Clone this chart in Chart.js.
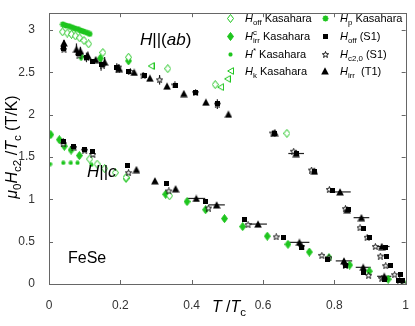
<!DOCTYPE html>
<html lang="en">
<head>
<meta charset="UTF-8">
<title>FeSe upper critical field</title>
<script src="https://cdn.jsdelivr.net/npm/chart.js"></script>
<style>
  html, body { margin: 0; padding: 0; background: #fff; }
</style>
</head>
<body>
<canvas id="c" width="415" height="326"></canvas>
<script>
// points are [T/Tc, mu0Hc2/Tc] ; black sets carry [.., xErr, yErr]
const xTickValues = [0, 0.2, 0.4, 0.6, 0.8, 1];
const yTickValues = [0, 0.5, 1, 1.5, 2, 2.5, 3];

const hOffKas = [
  [0.038, 2.98], [0.051, 2.966], [0.063, 2.951], [0.074, 2.932], [0.086, 2.909], [0.098, 2.878], [0.111, 2.838],
  [0.151, 2.735], [0.223, 2.68], [0.333, 2.545], [0.466, 2.356], [0.667, 1.78],
  [0.114, 1.477], [0.135, 1.417], [0.156, 1.364], [0.186, 1.315], [0.216, 1.258], [0.338, 1.042]
];
const hIrrCKas = [
  [0.09, 2.685], [0.144, 2.667], [0.223, 2.636],
  [0.005, 1.765], [0.029, 1.705], [0.043, 1.628], [0.062, 1.583], [0.085, 1.517], [0.216, 1.25],
  [0.327, 1.06], [0.387, 0.974], [0.439, 0.878], [0.492, 0.773], [0.543, 0.678], [0.612, 0.565],
  [0.67, 0.469], [0.73, 0.378], [0.785, 0.31], [0.843, 0.224], [0.898, 0.151], [0.951, 0.057], [0.997, 0.0]
];
const hStarKas = [[0.003, 1.417], [0.04, 1.432], [0.061, 1.432], [0.08, 1.432], [0.119, 1.409]];
const hPKas = [
  [0.039, 3.068], [0.047, 3.055], [0.056, 3.047], [0.064, 3.034], [0.072, 3.021],
  [0.081, 3.012], [0.089, 2.996], [0.097, 2.984], [0.106, 2.97], [0.114, 2.955]
];
const hKKas = [[0.286, 2.576], [0.481, 2.326], [0.5, 2.424]];

const hOffS1 = [
  [0.04, 2.78, 0, 0], [0.084, 2.724, 0, 0], [0.105, 2.678, 0, 0.057], [0.123, 2.628, 0, 0], [0.146, 2.591, 0, 0.07],
  [0.19, 2.553, 0, 0.057], [0.223, 2.515, 0, 0], [0.269, 2.469, 0, 0], [0.356, 2.349, 0, 0], [0.412, 2.261, 0, 0],
  [0.472, 2.136, 0, 0], [0.633, 1.773, 0, 0], [0.693, 1.542, 0, 0], [0.744, 1.333, 0, 0], [0.794, 1.102, 0, 0],
  [0.839, 0.878, 0, 0], [0.881, 0.659, 0, 0], [0.9, 0.545, 0, 0], [0.944, 0.435, 0, 0], [0.947, 0.33, 0, 0],
  [0.958, 0.216, 0, 0], [0.985, 0.11, 0, 0], [0.99, 0.045, 0, 0],
  [0.04, 1.682, 0, 0.04], [0.07, 1.628, 0, 0], [0.1, 1.591, 0, 0], [0.123, 1.568, 0, 0], [0.219, 1.401, 0, 0],
  [0.33, 1.19, 0, 0], [0.44, 0.974, 0, 0], [0.549, 0.758, 0, 0], [0.658, 0.545, 0, 0], [0.709, 0.435, 0, 0],
  [0.781, 0.292, 0, 0], [0.83, 0.216, 0, 0], [0.881, 0.14, 0, 0], [0.942, 0.057, 0, 0], [0.98, 0.045, 0, 0]
];
const hC20S1 = [
  [0.042, 2.773, 0, 0], [0.084, 2.705, 0, 0], [0.106, 2.678, 0, 0], [0.15, 2.58, 0, 0], [0.194, 2.563, 0, 0],
  [0.228, 2.511, 0, 0], [0.264, 2.469, 0, 0], [0.31, 2.413, 0, 0.057], [0.353, 2.352, 0, 0], [0.411, 2.261, 0, 0],
  [0.472, 2.125, 0, 0.057], [0.628, 1.784, 0, 0], [0.686, 1.568, 0, 0], [0.736, 1.347, 0, 0], [0.786, 1.117, 0, 0],
  [0.831, 0.89, 0, 0], [0.872, 0.665, 0, 0], [0.892, 0.551, 0, 0], [0.915, 0.443, 0, 0], [0.929, 0.33, 0, 0],
  [0.944, 0.216, 0, 0], [0.969, 0.11, 0, 0], [0.983, 0.045, 0, 0], [0.996, 0.0, 0, 0],
  [0.04, 1.656, 0, 0], [0.07, 1.614, 0, 0], [0.1, 1.58, 0, 0], [0.123, 1.531, 0, 0], [0.223, 1.315, 0, 0],
  [0.336, 1.099, 0, 0], [0.447, 0.898, 0, 0], [0.558, 0.701, 0, 0], [0.637, 0.557, 0, 0], [0.709, 0.443, 0, 0],
  [0.765, 0.338, 0, 0], [0.785, 0.31, 0, 0], [0.831, 0.224, 0, 0], [0.896, 0.102, 0, 0], [0.933, 0.065, 0, 0]
];
const hIrrT1 = [
  [0.042, 2.849, 0, 0.035], [0.077, 2.773, 0, 0.07], [0.088, 2.753, 0, 0.05], [0.109, 2.697, 0, 0.05],
  [0.131, 2.651, 0, 0], [0.156, 2.622, 0, 0.06], [0.197, 2.545, 0, 0.05], [0.239, 2.5, 0, 0],
  [0.283, 2.432, 0, 0], [0.331, 2.338, 0, 0], [0.378, 2.25, 0, 0], [0.44, 2.148, 0, 0], [0.503, 2.006, 0, 0],
  [0.633, 1.79, 0, 0], [0.693, 1.542, 0.022, 0], [0.744, 1.333, 0, 0], [0.816, 1.088, 0.03, 0],
  [0.836, 0.878, 0, 0], [0.876, 0.784, 0.022, 0], [0.933, 0.443, 0.022, 0],
  [0.245, 1.352, 0, 0], [0.297, 1.219, 0, 0], [0.355, 1.125, 0, 0], [0.413, 1.011, 0.025, 0],
  [0.47, 0.935, 0.023, 0], [0.586, 0.708, 0.025, 0], [0.702, 0.492, 0.028, 0], [0.827, 0.273, 0.023, 0],
  [0.881, 0.197, 0.021, 0], [0.94, 0.091, 0.02, 0]
];

const GREEN = '#1ec51e';
const FONT = '"Liberation Sans", Arial, sans-serif';

// marker images
function mk(w, h, draw) {
  const c = document.createElement('canvas');
  c.width = w; c.height = h;
  draw(c.getContext('2d'), w, h);
  return c;
}
function diamond(filled) {
  return mk(7, 9, g => {
    g.beginPath();
    g.moveTo(3.5, 0.5); g.lineTo(6.5, 4.5); g.lineTo(3.5, 8.5); g.lineTo(0.5, 4.5); g.closePath();
    g.fillStyle = filled ? GREEN : '#fff'; g.fill();
    g.strokeStyle = GREEN; g.lineWidth = 1; g.stroke();
  });
}
function asterisk(s, lw) {
  return mk(s, s, g => {
    g.strokeStyle = GREEN; g.lineWidth = lw; g.beginPath();
    const c = s / 2, r = s / 2 - 0.5;
    for (let i = 0; i < 4; i++) {
      const a = i * Math.PI / 4;
      g.moveTo(c + r * Math.cos(a), c + r * Math.sin(a));
      g.lineTo(c - r * Math.cos(a), c - r * Math.sin(a));
    }
    g.stroke();
  });
}
const mDiaOpen = diamond(false);
const mDiaFill = diamond(true);
const mAstBig = asterisk(7, 1.6);
const mAstSmall = asterisk(5, 1.5);
const mTriLeft = mk(7, 8, g => {
  g.beginPath(); g.moveTo(0.7, 4); g.lineTo(6.5, 0.7); g.lineTo(6.5, 7.3); g.closePath();
  g.fillStyle = '#fff'; g.fill(); g.strokeStyle = GREEN; g.lineWidth = 1; g.stroke();
});
const mSquare = mk(5, 5, g => { g.fillStyle = '#000'; g.fillRect(0, 0, 5, 5); });
const mPent = mk(7, 7, g => {
  g.beginPath();
  for (let i = 0; i < 10; i++) {
    const r = i % 2 ? 1.4 : 3.3, a = -Math.PI / 2 + i * Math.PI / 5;
    g.lineTo(3.5 + r * Math.cos(a), 3.8 + r * Math.sin(a));
  }
  g.closePath(); g.fillStyle = '#fff'; g.fill();
  g.strokeStyle = '#000'; g.lineWidth = 0.9; g.stroke();
});
const mTriUp = mk(8, 8, g => {
  g.beginPath(); g.moveTo(4, 0.3); g.lineTo(7.8, 7.5); g.lineTo(0.2, 7.5); g.closePath();
  g.fillStyle = '#000'; g.fill();
});

function ds(label, pts, img) {
  return {
    label, pointStyle: img, pointRadius: 4,
    data: pts.map(p => ({ x: p[0], y: p[1], xe: p[2] || 0, ye: p[3] || 0 }))
  };
}
// first dataset is drawn on top
const datasets = [
  ds('Hirr (T1)', hIrrT1, mTriUp),
  ds('Hoff (S1)', hOffS1, mSquare),
  ds('Hc2,0 (S1)', hC20S1, mPent),
  ds('Hk Kasahara', hKKas, mTriLeft),
  ds('H* Kasahara', hStarKas, mAstSmall),
  ds('Hp Kasahara', hPKas, mAstBig),
  ds('Hoff Kasahara', hOffKas, mDiaOpen),
  ds('Hirrc Kasahara', hIrrCKas, mDiaFill)
];

// text with sub/superscripts: parts [text, flags], i=italic b=sub p=sup s=stack (no advance)
function rich(ctx, x, y, parts, size, measureOnly) {
  let cx = x;
  for (const [t, f = ''] of parts) {
    const small = f.includes('b') || f.includes('p');
    const fs = small ? size * 0.72 : size;
    ctx.font = (f.includes('i') ? 'italic ' : '') + fs + 'px ' + FONT;
    const dy = f.includes('b') ? size * 0.28 : f.includes('p') ? -size * 0.42 : 0;
    if (!measureOnly) ctx.fillText(t, cx, y + dy);
    if (!f.includes('s')) cx += ctx.measureText(t).width;
  }
  return cx - x;
}

const legendItems = [
  [230, 18, mDiaOpen, [['H', 'i'], ['off', 'b'], [' Kasahara']]],
  [230, 36, mDiaFill, [['H', 'i'], ['c', 'ps'], ['irr', 'b'], [' Kasahara']]],
  [230, 54, mAstSmall, [['H', 'i'], ['*', 'p'], [' Kasahara']]],
  [230, 71, mTriLeft, [['H', 'i'], ['k', 'b'], [' Kasahara']]],
  [325, 18, mAstBig, [['H', 'i'], ['p', 'b'], [' Kasahara']]],
  [325, 36, mSquare, [['H', 'i'], ['off', 'b'], [' (S1)']]],
  [325, 54, mPent, [['H', 'i'], ['c2,0', 'b'], [' (S1)']]],
  [325, 71, mTriUp, [['H', 'i'], ['irr', 'b'], ['  (T1)']]]
];

const errorBars = {
  id: 'errorBars',
  beforeDatasetsDraw(chart) {
    const { ctx, scales: { x, y } } = chart;
    ctx.save();
    ctx.strokeStyle = '#222';
    ctx.lineWidth = 1.2;
    chart.data.datasets.forEach(d => d.data.forEach(p => {
      const px = x.getPixelForValue(p.x), py = y.getPixelForValue(p.y);
      ctx.beginPath();
      if (p.xe) { ctx.moveTo(x.getPixelForValue(p.x - p.xe), py); ctx.lineTo(x.getPixelForValue(p.x + p.xe), py); }
      if (p.ye) { ctx.moveTo(px, y.getPixelForValue(p.y - p.ye)); ctx.lineTo(px, y.getPixelForValue(p.y + p.ye)); }
      ctx.stroke();
    }));
    ctx.restore();
  }
};

const frame = {
  id: 'frame',
  afterDraw(chart) {
    const { ctx, chartArea: a, scales: { x, y } } = chart;
    ctx.save();
    ctx.strokeStyle = '#666';
    ctx.lineWidth = 1;
    ctx.strokeRect(Math.round(a.left) + 0.5, Math.round(a.top) + 0.5, Math.round(a.right - a.left), Math.round(a.bottom - a.top));
    ctx.beginPath();
    xTickValues.forEach(v => {
      const px = Math.round(x.getPixelForValue(v)) + 0.5;
      ctx.moveTo(px, a.bottom); ctx.lineTo(px, a.bottom - 4);
      ctx.moveTo(px, a.top); ctx.lineTo(px, a.top + 4);
    });
    yTickValues.forEach(v => {
      const py = Math.round(y.getPixelForValue(v)) + 0.5;
      ctx.moveTo(a.left, py); ctx.lineTo(a.left + 4, py);
      ctx.moveTo(a.right, py); ctx.lineTo(a.right - 4, py);
    });
    ctx.stroke();

    ctx.fillStyle = '#000';
    ctx.textBaseline = 'alphabetic';
    // axis titles
    const xt = [['T', 'i'], [' /'], ['T', 'i'], ['c', 'b']];
    const xw = rich(ctx, 0, 0, xt, 16, true);
    rich(ctx, 229 - xw / 2, 312, xt, 16);

    const yt = [['\u03bc', 'i'], ['0', 'b'], ['H', 'i'], ['c2', 'b'], [' /'], ['T', 'i'], ['c', 'b'], [' (T/K)']];
    const yw = rich(ctx, 0, 0, yt, 16, true);
    ctx.save();
    ctx.translate(17, 147);
    ctx.rotate(-Math.PI / 2);
    rich(ctx, -yw / 2, 0, yt, 16);
    ctx.restore();

    // annotations
    rich(ctx, 140, 45, [['H', 'i'], ['||('], ['ab', 'i'], [')']], 17);
    rich(ctx, 87, 177, [['H', 'i'], ['||'], ['c', 'i']], 17);
    rich(ctx, 68, 263, [['FeSe']], 16);

    // legend
    legendItems.forEach(([mx, my, img, parts]) => {
      ctx.drawImage(img, Math.round(mx - img.width / 2), Math.round(my - img.height / 2));
      rich(ctx, mx + 15, my + 4, parts, 11);
    });
    ctx.restore();
  }
};

new Chart(document.getElementById('c'), {
  type: 'scatter',
  data: { datasets },
  options: {
    responsive: false,
    animation: false,
    events: [],
    layout: { padding: { top: 2, right: 7, left: 0, bottom: 0 } },
    plugins: { legend: { display: false }, tooltip: { enabled: false } },
    scales: {
      x: {
        type: 'linear', min: 0, max: 1,
        grid: { display: false }, border: { display: false },
        afterBuildTicks: s => { s.ticks = xTickValues.map(v => ({ value: v })); },
        afterFit: s => { s.height = 42; },
        ticks: { color: '#333', padding: 6, maxRotation: 0, font: { size: 12, family: FONT }, callback: v => String(v) }
      },
      y: {
        type: 'linear', min: 0, max: 3.2,
        grid: { display: false }, border: { display: false },
        afterBuildTicks: s => { s.ticks = yTickValues.map(v => ({ value: v })); },
        afterFit: s => { s.width = 49; },
        ticks: { color: '#333', padding: 6, font: { size: 12, family: FONT }, callback: v => String(v) }
      }
    }
  },
  plugins: [errorBars, frame]
});
</script>
</body>
</html>
